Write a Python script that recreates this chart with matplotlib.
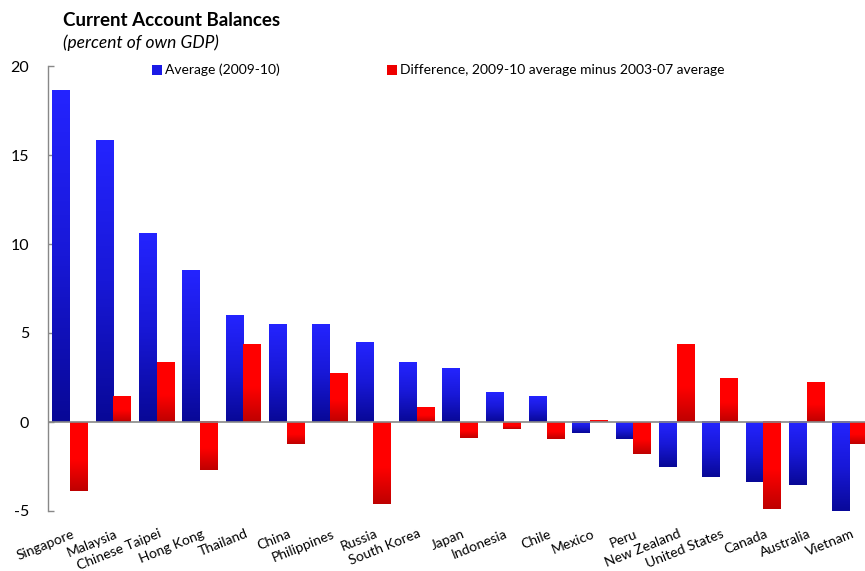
import numpy as np
import matplotlib
matplotlib.use("Agg")
import matplotlib.pyplot as plt
from matplotlib.colors import LinearSegmentedColormap
from matplotlib.patches import Rectangle

plt.rcParams['font.family'] = ['Lato', 'DejaVu Sans']

countries = ["Singapore", "Malaysia", "Chinese Taipei", "Hong Kong", "Thailand",
             "China", "Philippines", "Russia", "South Korea", "Japan", "Indonesia",
             "Chile", "Mexico", "Peru", "New Zealand", "United States", "Canada",
             "Australia", "Vietnam"]
average_2009_10 = [18.6, 15.8, 10.6, 8.5, 6.0, 5.5, 5.45, 4.45, 3.37, 3.03, 1.63,
                   1.46, -0.62, -0.95, -2.53, -3.09, -3.35, -3.54, -5.11]
difference = [-3.86, 1.46, 3.37, -2.70, 4.38, -1.22, 2.70, -4.60, 0.84, -0.88, -0.39,
              -0.95, 0.11, -1.78, 4.33, 2.42, -4.89, 2.20, -1.22]
yticks = [-5, 0, 5, 10, 15, 20]

W, H = 865, 571
fig = plt.figure(figsize=(W / 100, H / 100), dpi=100)
fig.patch.set_facecolor("white")

n = len(countries)
step = (850 - 70) / (n - 1)
x0_px = 70 - 0.5 * step
ax = fig.add_axes([x0_px / W, 1 - 511 / H, (W - x0_px) / W, (511 - 66) / H])
x = np.arange(n)
width = 0.41

blue_cmap = LinearSegmentedColormap.from_list(
    "blue_grad", [(0.0, (8/255, 8/255, 150/255)), (0.5, (24/255, 24/255, 215/255)),
                  (1.0, (36/255, 36/255, 255/255))])
red_cmap = LinearSegmentedColormap.from_list(
    "red_grad", [(0.0, (190/255, 0, 0)), (0.45, (1, 0, 0)), (1.0, (1, 0, 0))])

grad = np.linspace(0, 1, 256).reshape(-1, 1)

def gradient_bars(xpos, vals, cmap):
    bars = ax.bar(xpos, vals, width, color="none", edgecolor="none", zorder=2)
    for b in bars:
        bx, by = b.get_x(), b.get_y()
        bw, bh = b.get_width(), b.get_height()
        ylo, yhi = min(by, by + bh), max(by, by + bh)
        ax.imshow(grad, cmap=cmap, origin="lower", aspect="auto",
                  extent=(bx, bx + bw, ylo, yhi), zorder=2, interpolation="bilinear")
    return bars

gradient_bars(x - width / 2, average_2009_10, blue_cmap)
gradient_bars(x + width / 2, difference, red_cmap)

ax.set_xlim(-0.5, -0.5 + (W - x0_px) / step)
ax.set_ylim(-5, 20)
ax.set_yticks(yticks)
ax.set_yticklabels([str(t) for t in yticks], fontsize=11.5)
ax.tick_params(axis="y", direction="in", length=4, width=1, color="#888888",
               pad=14, labelcolor="black")
ax.tick_params(axis="x", length=0)
ax.set_xticks(x)
ax.set_xticklabels([])

for s in ["top", "right", "bottom"]:
    ax.spines[s].set_visible(False)
ax.spines["left"].set_color("#888888")
ax.spines["left"].set_linewidth(1)
ax.axhline(0, color="#888888", linewidth=1.2, zorder=3)

# Rotated category labels, right end anchored below each group
for i, name in enumerate(countries):
    ax.annotate(name, xy=(i, -5), xycoords="data", xytext=(1, -12),
                textcoords="offset points", ha="right", va="top", rotation=22,
                rotation_mode="anchor", fontsize=10, annotation_clip=False)

fig.text(63 / W, 1 - 20 / H, "Current Account Balances", fontsize=13.5,
         fontweight="bold", va="center", ha="left")
fig.text(63 / W, 1 - 43 / H, "(percent of own GDP)", fontsize=12.5,
         style="italic", va="center", ha="left")

# Legend entries
def legend_entry(px, label, color):
    fig.patches.append(Rectangle((px / W, 1 - 75 / H), 10 / W, 10 / H,
                                 transform=fig.transFigure, facecolor=color,
                                 edgecolor="none", figure=fig))
    fig.text((px + 13) / W, 1 - 70 / H, label, fontsize=10, va="center", ha="left")

legend_entry(152, "Average (2009-10)", "#1a1ae6")
legend_entry(387, "Difference, 2009-10 average minus 2003-07 average", "#ee0000")

fig.savefig("out.png", dpi=100, facecolor="white")
